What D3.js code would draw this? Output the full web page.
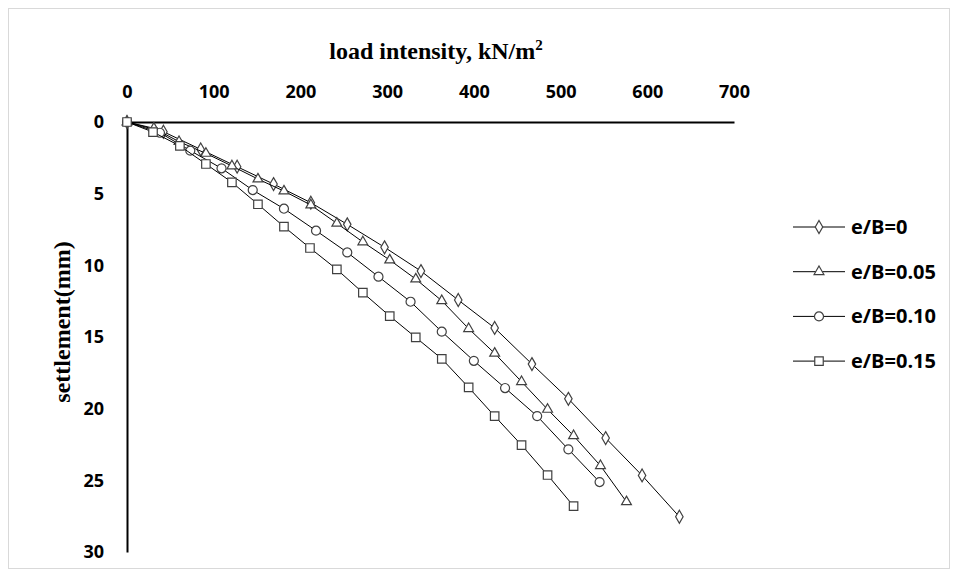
<!DOCTYPE html>
<html>
<head>
<meta charset="utf-8">
<script src="https://cdn.jsdelivr.net/npm/d3@7"></script>
<style>
  body { margin: 0; background: #fff; }
  .axis text { font-family: 'Open Sans', sans-serif; font-weight: 700; font-size: 18px; fill: #000; }
  .axis .domain { stroke: #000; stroke-width: 2; }
</style>
</head>
<body>
<div id="chart"></div>
<script>
// load intensity (kN/m2) and settlement (mm) for each e/B
const loadA = [0, 42, 85, 127, 169, 212, 254, 297, 339, 382, 424, 467, 509, 552, 594, 637]
const settleA = [0, 0.68, 1.91, 3.12, 4.33, 5.63, 7.14, 8.74, 10.4, 12.42, 14.37, 16.89, 19.31, 22.05, 24.66, 27.54]

const loadB = [0, 31, 60, 91, 121, 151, 181, 212, 242, 272, 303, 333, 363, 394, 424, 455, 485, 515, 546, 576]
const settleB = [0, 0.44, 1.37, 2.19, 3.07, 3.98, 4.82, 5.79, 7.07, 8.37, 9.63, 10.96, 12.47, 14.42, 16.14, 18.12, 20.05, 21.89, 23.98, 26.5]

const loadC = [0, 38, 73, 109, 145, 181, 218, 254, 290, 327, 363, 400, 436, 473, 509, 545]
const settleC = [0, 0.75, 2.0, 3.23, 4.75, 6.05, 7.58, 9.1, 10.79, 12.54, 14.63, 16.66, 18.56, 20.52, 22.84, 25.12]

const loadD = [0, 30, 61, 91, 121, 151, 181, 211, 242, 272, 303, 333, 363, 394, 424, 455, 485, 515]
const settleD = [0, 0.7, 1.67, 2.93, 4.21, 5.74, 7.3, 8.79, 10.28, 11.91, 13.54, 15.03, 16.52, 18.52, 20.52, 22.54, 24.63, 26.8]

const seriesNames = ['e/B=0', 'e/B=0.05', 'e/B=0.10', 'e/B=0.15']
const xTicks = [0, 100, 200, 300, 400, 500, 600, 700]
const yTicks = [0, 5, 10, 15, 20, 25, 30]

const series = [
  { name: seriesNames[0], shape: d3.symbolDiamond, size: 48, load: loadA, settle: settleA },
  { name: seriesNames[1], shape: d3.symbolTriangle, size: 42, load: loadB, settle: settleB },
  { name: seriesNames[2], shape: d3.symbolCircle, size: 64, load: loadC, settle: settleC },
  { name: seriesNames[3], shape: d3.symbolSquare, size: 72, load: loadD, settle: settleD }
]

const margin = { top: 122, left: 127, right: 224, bottom: 25 }
const width = 958 - margin.left - margin.right
const height = 577 - margin.top - margin.bottom

const root = d3
  .select('#chart')
  .append('svg')
  .attr('width', 958)
  .attr('height', 577)

// faint chart border
root
  .append('rect')
  .attr('x', 8.5)
  .attr('y', 8.5)
  .attr('width', 941)
  .attr('height', 560)
  .attr('fill', 'none')
  .attr('stroke', '#d9d9d9')

const svg = root
  .append('g')
  .attr('transform', 'translate(' + margin.left + ',' + margin.top + ')')

const xPositionScale = d3.scaleLinear().domain([0, 700]).range([0, width])
const yPositionScale = d3.scaleLinear().domain([0, 30]).range([0, height])

const xAxis = d3
  .axisTop(xPositionScale)
  .tickValues(xTicks)
  .tickSize(0)
  .tickSizeOuter(0)
  .tickPadding(24)
svg
  .append('g')
  .attr('class', 'axis x-axis')
  .call(xAxis)

const yAxis = d3
  .axisLeft(yPositionScale)
  .tickValues(yTicks)
  .tickSize(0)
  .tickSizeOuter(0)
  .tickPadding(23)
svg
  .append('g')
  .attr('class', 'axis y-axis')
  .call(yAxis)

// axis titles
svg
  .append('text')
  .text('load intensity, kN/m')
  .attr('x', 309)
  .attr('y', -63)
  .attr('text-anchor', 'middle')
  .attr('font-family', "'Liberation Serif', serif")
  .attr('font-weight', 700)
  .attr('font-size', 24)
  .append('tspan')
  .text('2')
  .attr('font-size', 15)
  .attr('dy', -9)

svg
  .append('text')
  .text('settlement(mm)')
  .attr('transform', 'translate(-57,' + 200 + ') rotate(-90)')
  .attr('text-anchor', 'middle')
  .attr('font-family', "'Liberation Serif', serif")
  .attr('font-weight', 700)
  .attr('font-size', 24)

const line = d3
  .line()
  .x(d => xPositionScale(d[0]))
  .y(d => yPositionScale(d[1]))

series.forEach(function(s) {
  const points = s.load.map((l, i) => [l, s.settle[i]])
  svg
    .append('path')
    .datum(points)
    .attr('d', line)
    .attr('fill', 'none')
    .attr('stroke', '#000')
    .attr('stroke-width', 1)

  svg
    .selectAll('.pt-' + s.name.replace(/[^a-z0-9]/gi, ''))
    .data(points)
    .enter()
    .append('path')
    .attr('d', d3.symbol().type(s.shape).size(s.size))
    .attr('transform', d => 'translate(' + xPositionScale(d[0]) + ',' + yPositionScale(d[1]) + ')')
    .attr('fill', '#fff')
    .attr('stroke', '#404040')
    .attr('stroke-width', 1.2)
})

// legend
const legend = root
  .append('g')
  .attr('transform', 'translate(793,227)')

series.forEach(function(s, i) {
  const g = legend.append('g').attr('transform', 'translate(0,' + i * 44.7 + ')')
  g.append('line')
    .attr('x1', 0)
    .attr('x2', 52)
    .attr('stroke', '#000')
    .attr('stroke-width', 1)
  g.append('path')
    .attr('d', d3.symbol().type(s.shape).size(s.size))
    .attr('transform', 'translate(26,0)')
    .attr('fill', '#fff')
    .attr('stroke', '#404040')
    .attr('stroke-width', 1.2)
  g.append('text')
    .text(s.name)
    .attr('x', 58)
    .attr('dy', '0.35em')
    .attr('font-family', "'Open Sans', sans-serif")
    .attr('font-weight', 700)
    .attr('font-size', 20)
})
</script>
</body>
</html>
